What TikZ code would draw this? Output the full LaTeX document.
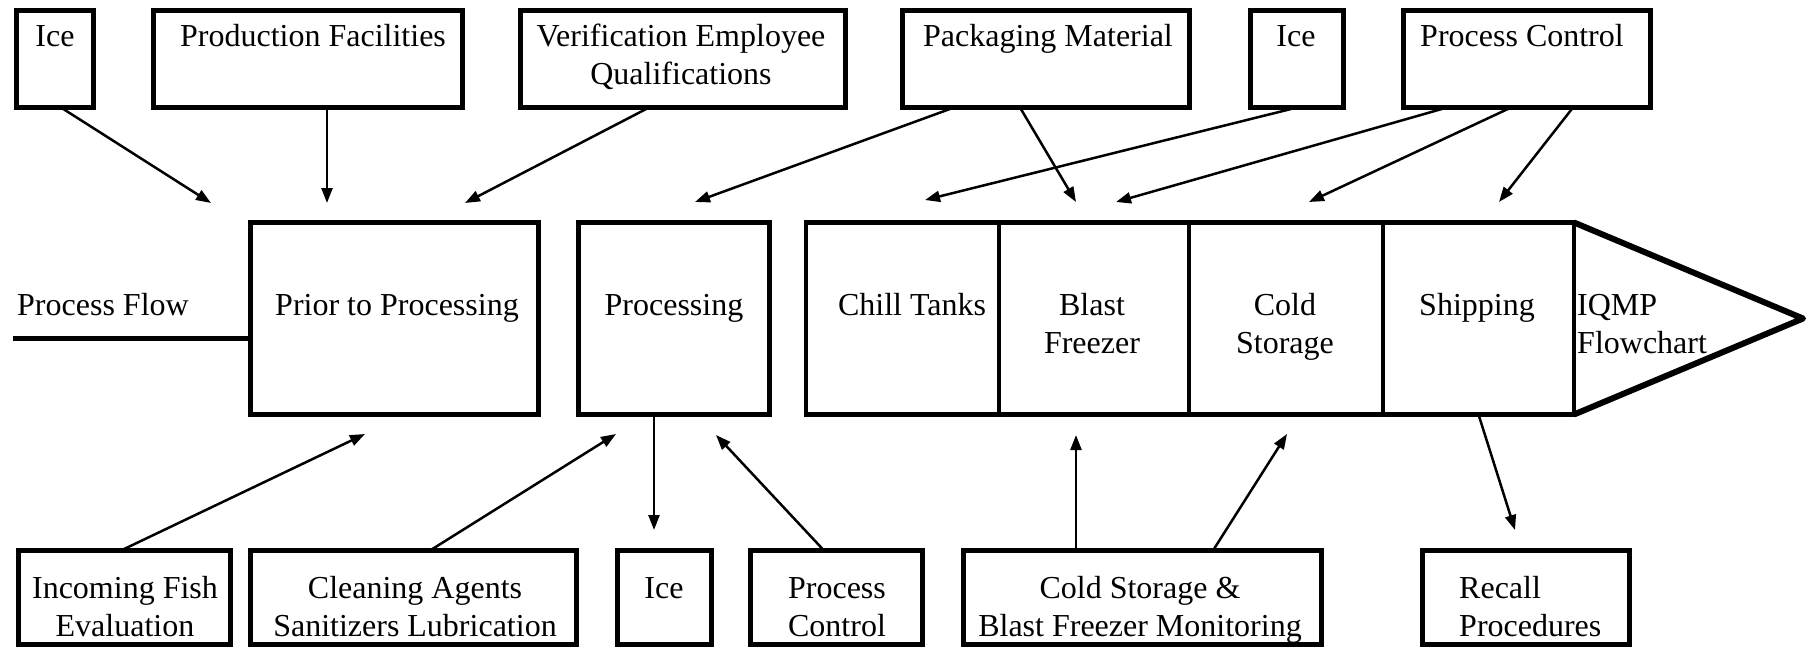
\documentclass[tikz,border=0pt]{standalone}
\usepackage{fontspec}
\setmainfont{Liberation Serif}
\usetikzlibrary{arrows.meta}
\begin{document}
\begin{tikzpicture}[x=1pt,y=-1pt,
  box/.style={draw, line width=5pt, inner sep=0pt, outer sep=0pt},
  cell/.style={draw, line width=4.5pt, inner sep=0pt, outer sep=0pt, minimum height=192pt},
  lbl/.style={font=\fontsize{32}{38}\selectfont, align=center, inner sep=0pt, anchor=base},
  lbll/.style={font=\fontsize{32}{38}\selectfont, align=left, inner sep=0pt, anchor=base west},
  arr/.style={line width=2.5pt, -{Triangle[length=15pt,width=11pt]}},
  ]
\useasboundingbox (0,0) rectangle (1810,649);
% top row boxes
\node[box, minimum width=77pt, minimum height=97pt] (ice1) at (55,59) {};
\node[box, minimum width=309pt, minimum height=97pt] (prodfac) at (308,59) {};
\node[box, minimum width=325pt, minimum height=97pt] (verif) at (683,59) {};
\node[box, minimum width=287pt, minimum height=97pt] (pack) at (1046,59) {};
\node[box, minimum width=93pt, minimum height=97pt] (ice2) at (1297,59) {};
\node[box, minimum width=247pt, minimum height=97pt] (pc1) at (1527,59) {};
% middle
\node[box, minimum width=288pt, minimum height=192pt] (prior) at (394.5,318.5) {};
\node[box, minimum width=191pt, minimum height=192pt] (proc) at (674,318.5) {};
\node[cell, minimum width=193pt] (chill) at (902.5,318.5) {};
\node[cell, minimum width=190pt] (blast) at (1094,318.5) {};
\node[cell, minimum width=194pt] (cold) at (1286,318.5) {};
\node[cell, minimum width=191pt] (ship) at (1478.5,318.5) {};
\coordinate (tip) at (1803,318.5);
\draw[line width=6pt, line join=round] (ship.north east) -- (tip) -- (ship.south east);
\coordinate (pf) at (13,338);
\draw[line width=5pt] (pf) -- (pf -| prior.west);
% bottom row
\node[box, minimum width=212pt, minimum height=94pt] (fish) at (124.5,597.5) {};
\node[box, minimum width=326pt, minimum height=94pt] (clean) at (413.5,597.5) {};
\node[box, minimum width=94pt, minimum height=94pt] (ice3) at (664.5,597.5) {};
\node[box, minimum width=172pt, minimum height=94pt] (pc2) at (836.5,597.5) {};
\node[box, minimum width=358pt, minimum height=94pt] (csbf) at (1142.5,597.5) {};
\node[box, minimum width=207pt, minimum height=94pt] (recall) at (1526,597.5) {};
% labels (base anchor = baseline of last line)
\node[lbl] (tice1) at (55,46) {Ice};
\node[lbl] (tprodfac) at (313,46) {Production Facilities};
\node[lbl] (tverif) at (681,84) {Verification Employee\\Qualifications};
\node[lbl] (tpack) at (1048,46) {Packaging Material};
\node[lbl] (tice2) at (1296,46) {Ice};
\node[lbl] (tpc1) at (1522,46) {Process Control};
\node[lbll] (tpf) at (17,315) {Process Flow};
\node[lbl] (tprior) at (397,315) {Prior to Processing};
\node[lbl] (tproc) at (674,315) {Processing};
\node[lbl] (tchill) at (912,315) {Chill Tanks};
\node[lbl] (tblast) at (1092,353) {Blast\\Freezer};
\node[lbl] (tcold) at (1285,353) {Cold\\Storage};
\node[lbl] (tship) at (1477,315) {Shipping};
\node[lbll] (tiqmp) at (1577,353) {IQMP\\Flowchart};
\node[lbl] (tfish) at (125,636) {Incoming Fish\\Evaluation};
\node[lbl] (tclean) at (415,636) {Cleaning Agents\\Sanitizers Lubrication};
\node[lbl] (tice3) at (664,598) {Ice};
\node[lbl] (tpc2) at (837,636) {Process\\Control};
\node[lbl] (tcsbf) at (1140,636) {Cold Storage \&\\Blast Freezer Monitoring};
\node[lbll] (trecall) at (1459,636) {Recall\\Procedures};
% free arrow ends
\coordinate (e1) at (211,203);
\coordinate (e2) at (327,203);
\coordinate (e3) at (465,203);
\coordinate (e4) at (695,202);
\coordinate (e5) at (1076,202);
\coordinate (e6) at (925,200);
\coordinate (e7) at (1116,202);
\coordinate (e8) at (1309,202);
\coordinate (e9) at (1499,202);
\coordinate (e10) at (365,434);
\coordinate (e11) at (616,434);
\coordinate (e12) at (654,530);
\coordinate (e13) at (716,435);
\coordinate (e14) at (1076,435);
\coordinate (e15) at (1287,434);
\coordinate (e16) at (1515,530);
% arrows
\draw[arr] ([xshift=6pt]ice1.south) -- (e1);
\draw[arr] ([xshift=19pt]prodfac.south) -- (e2);
\draw[arr] ([xshift=-34pt]verif.south) -- (e3);
\draw[arr] ([xshift=-92pt]pack.south) -- (e4);
\draw[arr] ([xshift=-26pt]pack.south) -- (e5);
\draw[arr] (ice2.south) -- (e6);
\draw[arr] ([xshift=-80pt]pc1.south) -- (e7);
\draw[arr] ([xshift=-16pt]pc1.south) -- (e8);
\draw[arr] ([xshift=46pt]pc1.south) -- (e9);
\draw[arr] ([xshift=-3.5pt]fish.north) -- (e10);
\draw[arr] ([xshift=16.5pt]clean.north) -- (e11);
\draw[arr] ([xshift=-20pt]proc.south) -- (e12);
\draw[arr] ([xshift=-12.5pt]pc2.north) -- (e13);
\draw[arr] ([xshift=-66.5pt]csbf.north) -- (e14);
\draw[arr] ([xshift=70.5pt]csbf.north) -- (e15);
\draw[arr] (ship.south) -- (e16);
\end{tikzpicture}
\end{document}
